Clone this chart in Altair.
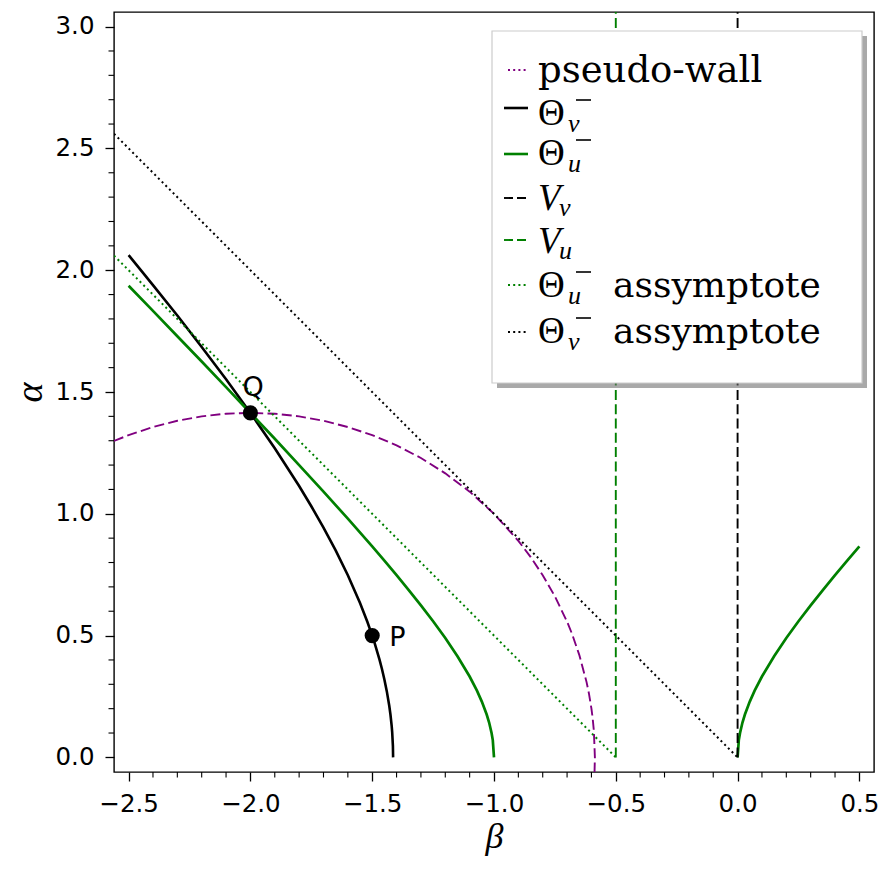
import altair as alt
import pandas as pd

# ---------------- data ----------------
# Theta_v^- curve
theta_v_beta = [-2.50, -2.40, -2.30, -2.20, -2.10, -2.00, -1.90, -1.80, -1.75, -1.70, -1.65,
                -1.60, -1.55, -1.52, -1.50, -1.49, -1.47, -1.46, -1.45, -1.44, -1.43,
                -1.425, -1.42, -1.418, -1.415, -1.4142]
theta_v_alpha = [2.062, 1.939, 1.814, 1.685, 1.552, 1.414, 1.269, 1.114, 1.031, 0.943, 0.850,
                 0.748, 0.634, 0.557, 0.500, 0.469, 0.401, 0.363, 0.320, 0.271, 0.212,
                 0.175, 0.128, 0.104, 0.047, 0.0]

# Theta_u^- curve, left branch
theta_u_left_beta = [-2.5, -2.4, -2.3, -2.2, -2.1, -2.0, -1.9, -1.8, -1.7, -1.6, -1.5,
                     -1.45, -1.4, -1.35, -1.3, -1.25, -1.2, -1.15, -1.1, -1.07, -1.05,
                     -1.03, -1.02, -1.01, -1.005, -1.0]
theta_u_left_alpha = [1.936, 1.833, 1.729, 1.625, 1.520, 1.414, 1.308, 1.200, 1.091, 0.980,
                      0.866, 0.808, 0.748, 0.687, 0.624, 0.559, 0.490, 0.415, 0.332, 0.274,
                      0.229, 0.176, 0.143, 0.100, 0.071, 0.0]

# Theta_u^- curve, right branch
theta_u_right_beta = [0.0, 0.005, 0.01, 0.02, 0.03, 0.05, 0.07, 0.1, 0.15, 0.2, 0.25, 0.3,
                      0.35, 0.4, 0.45, 0.5]
theta_u_right_alpha = [0.0, 0.071, 0.100, 0.143, 0.176, 0.229, 0.274, 0.332, 0.415, 0.490,
                       0.559, 0.624, 0.687, 0.748, 0.808, 0.866]

# pseudo-wall
wall_beta = [-2.56, -2.5, -2.4, -2.3, -2.2, -2.1, -2.0, -1.9, -1.8, -1.7, -1.6, -1.5, -1.4,
             -1.3, -1.2, -1.1, -1.0, -0.9, -0.85, -0.8, -0.75, -0.7, -0.68, -0.65, -0.62,
             -0.61, -0.6, -0.595, -0.59, -0.5858, -0.5875]
wall_alpha = [1.299, 1.323, 1.356, 1.382, 1.400, 1.411, 1.414, 1.411, 1.400, 1.382, 1.356,
              1.323, 1.281, 1.229, 1.166, 1.091, 1.000, 0.889, 0.823, 0.748, 0.661, 0.557,
              0.508, 0.421, 0.309, 0.261, 0.200, 0.161, 0.109, 0.0, -0.07]

# vertical lines V_v and V_u
vv_beta = [0.0, 0.0]
vv_alpha = [0.0, 3.2]
vu_beta = [-0.5, -0.5]
vu_alpha = [0.0, 3.2]

# asymptotes
asym_u_beta = [-2.56, -0.5]
asym_u_alpha = [2.06, 0.0]
asym_v_beta = [-2.56, 0.0]
asym_v_alpha = [2.56, 0.0]

# marked points
pt_beta = [-2.0, -1.5]
pt_alpha = [1.414, 0.5]
pt_label = ["Q", "P"]

x_major = [-2.5, -2.0, -1.5, -1.0, -0.5, 0.0, 0.5]
y_major = [0.0, 0.5, 1.0, 1.5, 2.0, 2.5, 3.0]
x_minor = [round(-2.5 + 0.1 * k, 1) for k in range(31)]
y_minor = [round(0.1 * k, 1) for k in range(31)]
x_minor = [v for v in x_minor if v not in x_major]
y_minor = [v for v in y_minor if v not in y_major]

# ---------------- styling ----------------
PURPLE = "#800080"
GREEN = "#008000"
BLACK = "#000000"
DASH = [10, 4.3]
DOT = [2, 3.2]

W, H = 760, 760

xs = alt.Scale(domain=[-2.56, 0.56], nice=False, zero=False)
ys = alt.Scale(domain=[-0.06, 3.06], nice=False, zero=False)

x_axis = alt.Axis(values=x_major, format=".1f", title="β", grid=False, domain=False,
                  tickSize=9, tickWidth=1.3, tickColor="black", labelPadding=11,
                  labelFont="DejaVu Sans", labelFontSize=24.5, labelColor="black",
                  titleFont="Liberation Serif", titleFontStyle="italic",
                  titleFontWeight="normal", titleFontSize=36, titleColor="black",
                  titlePadding=4)
y_axis = alt.Axis(values=y_major, format=".1f", title="α", grid=False, domain=False,
                  tickSize=9, tickWidth=1.3, tickColor="black", labelPadding=11,
                  labelFont="DejaVu Sans", labelFontSize=24.5, labelColor="black",
                  titleFont="Liberation Serif", titleFontStyle="italic",
                  titleFontWeight="normal", titleFontSize=38, titleColor="black",
                  titlePadding=6)

x_enc = alt.X("beta:Q", scale=xs, axis=x_axis)
y_enc = alt.Y("alpha:Q", scale=ys, axis=y_axis)


def curve(beta, alpha, color, width, dash=None):
    df = pd.DataFrame({"beta": beta, "alpha": alpha, "i": list(range(len(beta)))})
    kw = dict(color=color, strokeWidth=width, clip=True, strokeCap="butt")
    if dash is not None:
        kw["strokeDash"] = dash
    return alt.Chart(df).mark_line(**kw).encode(x=x_enc, y=y_enc, order="i:Q")


layers = [
    curve(wall_beta, wall_alpha, PURPLE, 1.9, DASH),
    curve(theta_v_beta, theta_v_alpha, BLACK, 2.6),
    curve(theta_u_left_beta, theta_u_left_alpha, GREEN, 2.7),
    curve(theta_u_right_beta, theta_u_right_alpha, GREEN, 2.7),
    curve(vv_beta, vv_alpha, BLACK, 1.9, DASH),
    curve(vu_beta, vu_alpha, GREEN, 1.9, DASH),
    curve(asym_u_beta, asym_u_alpha, GREEN, 2.0, DOT),
    curve(asym_v_beta, asym_v_alpha, BLACK, 2.0, DOT),
]

# minor ticks (through the scales)
xm = pd.DataFrame({"beta": x_minor})
ym = pd.DataFrame({"alpha": y_minor})
layers.append(alt.Chart(xm).mark_rule(color="black", strokeWidth=1.1).encode(
    x=x_enc, y=alt.value(H), y2=alt.value(H + 5.5)))
layers.append(alt.Chart(ym).mark_rule(color="black", strokeWidth=1.1).encode(
    y=y_enc, x=alt.value(0), x2=alt.value(-5.5)))

# points and labels
pts = pd.DataFrame({"beta": pt_beta, "alpha": pt_alpha, "label": pt_label})
layers.append(alt.Chart(pts).mark_circle(size=230, color="black", opacity=1).encode(
    x=x_enc, y=y_enc))
layers.append(alt.Chart(pts).transform_filter(alt.datum.label == "Q").mark_text(
    align="left", baseline="alphabetic", dx=-8, dy=-17, font="DejaVu Sans",
    fontSize=27, color="black").encode(x=x_enc, y=y_enc, text="label:N"))
layers.append(alt.Chart(pts).transform_filter(alt.datum.label == "P").mark_text(
    align="left", baseline="alphabetic", dx=17, dy=10, font="DejaVu Sans",
    fontSize=27, color="black").encode(x=x_enc, y=y_enc, text="label:N"))

# ---------------- hand-made legend (pixel layout) ----------------
one = pd.DataFrame({"k": [0]})


def box(x1, x2, y1, y2, fill, stroke=None, opacity=1.0):
    kw = dict(fill=fill, opacity=opacity)
    if stroke:
        kw["stroke"] = stroke
        kw["strokeWidth"] = 1.2
    return alt.Chart(one).mark_rect(**kw).encode(
        x=alt.value(x1), x2=alt.value(x2), y=alt.value(y1), y2=alt.value(y2))


def seg(x1, x2, y, color, width, dash=None):
    kw = dict(color=color, strokeWidth=width, strokeCap="butt")
    if dash is not None:
        kw["strokeDash"] = dash
    return alt.Chart(one).mark_rule(**kw).encode(
        x=alt.value(x1), x2=alt.value(x2), y=alt.value(y))


def txt(s, x, y, size, font, italic=False):
    return alt.Chart(one).mark_text(
        text=s, align="left", baseline="alphabetic", font=font, fontSize=size,
        fontStyle="italic" if italic else "normal", color="black").encode(
        x=alt.value(x), y=alt.value(y))


LX1, LX2 = 378, 748
LY1, LY2 = 19, 371
layers.append(box(LX1 + 5, LX2 + 5, LY1 + 5, LY2 + 5, "#6f6f6f", opacity=0.6))
layers.append(box(LX1, LX2, LY1, LY2, "white", stroke="#cccccc"))

SX1, SX2, DX1 = 390, 414, 394
TX = 424
MAIN = 37
SUB = 26
SERIF = "Liberation Serif"
TEXTF = "DejaVu Serif"

# legend entries: (sample color, dash, sample_y, kind, subscript, baseline, suffix)
legend_rows = [
    (PURPLE, DOT, 58, "text", "pseudo-wall", 70, ""),
    (BLACK, None, 96, "Θ", "v", 113, ""),
    (GREEN, None, 142, "Θ", "u", 153, ""),
    (BLACK, DASH, 186, "V", "v", 198, ""),
    (GREEN, DASH, 228, "V", "u", 241, ""),
    (GREEN, DOT, 273, "Θ", "u", 285, "assymptote"),
    (BLACK, DOT, 320, "Θ", "v", 331, "assymptote"),
]

for color, dash, sy, kind, sub, base, suffix in legend_rows:
    if dash is DOT:
        layers.append(seg(DX1, SX2, sy, color, 2.0, dash))
    elif dash is DASH:
        layers.append(seg(SX1, SX2, sy, color, 1.9, [9, 4]))
    else:
        layers.append(seg(SX1, SX2, sy, color, 2.6))
    if kind == "text":
        layers.append(txt(sub, TX, base, MAIN, TEXTF))
    elif kind == "Θ":
        layers.append(txt("Θ", TX, base, MAIN, SERIF))
        layers.append(txt(sub, TX + 30, base + 7, SUB, SERIF, italic=True))
        layers.append(seg(TX + 38, TX + 53, base - 25, "black", 1.6))
        if suffix:
            layers.append(txt(suffix, TX + 75, base, 36, TEXTF))
    else:
        layers.append(txt("V", TX, base, MAIN, SERIF, italic=True))
        layers.append(txt(sub, TX + 21, base + 6, SUB, SERIF, italic=True))

chart = alt.layer(*layers).properties(
    width=W, height=H,
    padding={"left": 106, "top": 4, "right": 4, "bottom": 85},
    autosize=alt.AutoSizeParams(type="none"),
).configure_view(stroke="black", strokeWidth=1.4)

chart.save("out.html", embed_options={"renderer": "svg", "actions": False})
